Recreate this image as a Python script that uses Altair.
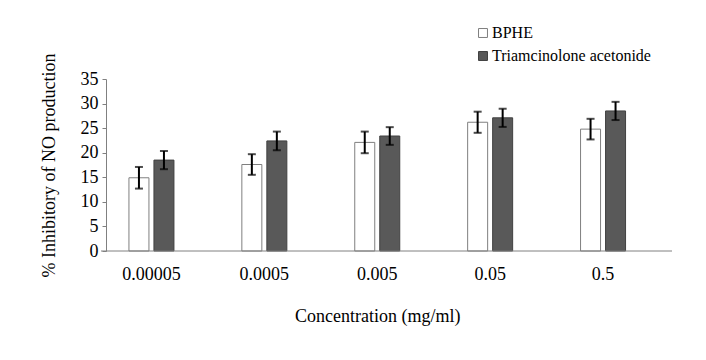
import altair as alt
import pandas as pd

concs = ["0.00005", "0.0005", "0.005", "0.05", "0.5"]
series = ["BPHE", "Triamcinolone acetonide"]
bphe = [14.9, 17.6, 22.1, 26.2, 24.8]
bphe_err = [2.2, 2.1, 2.2, 2.15, 2.1]
tria = [18.5, 22.4, 23.4, 27.1, 28.5]
tria_err = [1.85, 1.9, 1.8, 1.85, 1.85]
yticks = [0, 5, 10, 15, 20, 25, 30, 35]

rows = []
for i, c in enumerate(concs):
    rows.append({"conc": c, "series": series[0], "value": bphe[i], "err": bphe_err[i]})
    rows.append({"conc": c, "series": series[1], "value": tria[i], "err": tria_err[i]})
df = pd.DataFrame(rows)
df["lo"] = df["value"] - df["err"]
df["hi"] = df["value"] + df["err"]

FONT = "Liberation Serif"
W, H = 566, 172
YTITLE = "% Inhibitory of NO production"

x = alt.X("conc:N", sort=concs, title="Concentration (mg/ml)",
          scale=alt.Scale(range=[-11, 553.5], paddingInner=0, paddingOuter=0),
          axis=alt.Axis(domain=False, ticks=False, labelAngle=0, labelFontSize=18,
                        labelFont=FONT, labelColor="#000", labelPadding=14,
                        titleFont=FONT, titleFontSize=18, titleFontWeight="normal",
                        titleColor="#000", titlePadding=24))
xo = alt.XOffset("series:N", sort=series,
                 scale=alt.Scale(range=[33.95, 78.95], paddingInner=0.2, paddingOuter=0))
yscale = alt.Scale(domain=[0, 35], nice=False, zero=True)
yaxis = alt.Axis(values=yticks, grid=False, tickSize=4,
                 labelOverlap=False, labelFlush=False,
                 domainColor="#808080", tickColor="#808080",
                 labelFont=FONT, labelFontSize=18, labelColor="#000", labelPadding=4,
                 titleFont=FONT, titleFontSize=18, titleFontWeight="normal",
                 titleColor="#000", titlePadding=22)

def yenc(field):
    return alt.Y(field, title=YTITLE, scale=yscale, axis=yaxis)

base = alt.Chart(df)
bars = base.mark_bar(strokeWidth=1).encode(
    x=x, xOffset=xo, y=yenc("value:Q"),
    fill=alt.Fill("series:N", sort=series,
                  scale=alt.Scale(domain=series, range=["#ffffff", "#595959"]),
                  legend=alt.Legend(title=None, orient="none", legendX=369, legendY=-54,
                                    symbolType="square", symbolSize=80,
                                    symbolStrokeColor="#555555", symbolStrokeWidth=1,
                                    labelFont=FONT, labelFontSize=16, labelColor="#000",
                                    rowPadding=7, labelOffset=1)),
    stroke=alt.Stroke("series:N", sort=series,
                      scale=alt.Scale(domain=series, range=["#7f7f7f", "#404040"]),
                      legend=None),
)
rules = base.mark_rule(color="#000", strokeWidth=2).encode(
    x=x, xOffset=xo, y=yenc("lo:Q"), y2="hi:Q")
cap_lo = base.mark_tick(color="#000", thickness=2, size=8).encode(
    x=x, xOffset=xo, y=yenc("lo:Q"))
cap_hi = base.mark_tick(color="#000", thickness=2, size=8).encode(
    x=x, xOffset=xo, y=yenc("hi:Q"))
baseline = alt.Chart(pd.DataFrame({"v": [0]})).mark_rule(color="#808080", strokeWidth=1).encode(
    x=alt.value(-5), x2=alt.value(W), y=alt.value(H))

chart = alt.layer(bars, rules, cap_lo, cap_hi, baseline).properties(
    width=W, height=H,
    background="#ffffff",
    autosize=alt.AutoSizeParams(type="none"),
    padding={"left": 98, "top": 71, "right": 20, "bottom": 90},
).configure_view(stroke=None)

chart.save("out.html", embed_options={"renderer": "svg", "actions": False})
